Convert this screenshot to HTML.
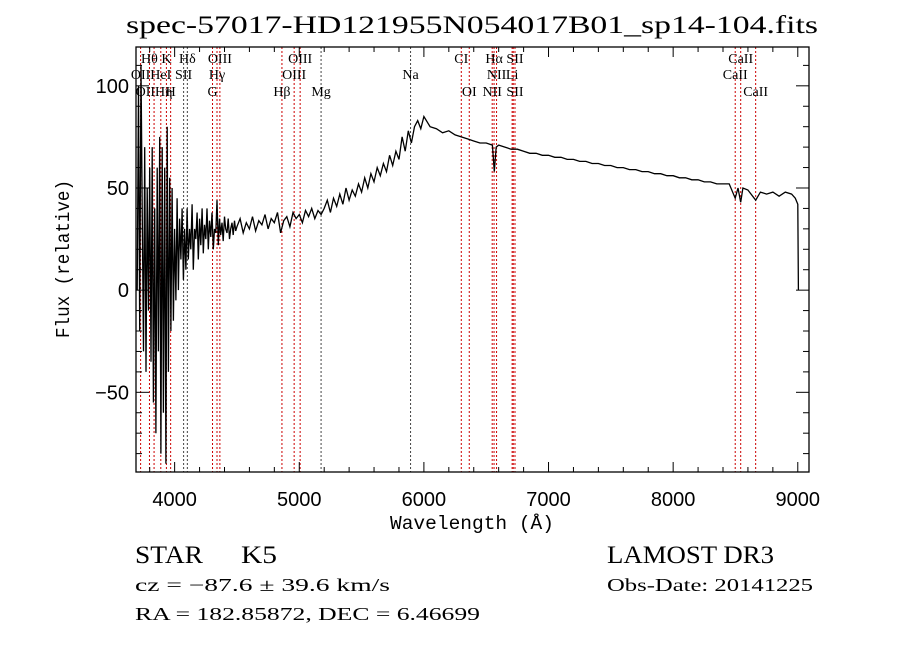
<!DOCTYPE html>
<html><head><meta charset="utf-8"><style>
body{margin:0;background:#fff;}
svg{display:block;font-family:"Liberation Serif",serif;}
</style></head><body>
<svg id="chart" width="900" height="649" viewBox="0 0 900 649" xmlns="http://www.w3.org/2000/svg">
<rect width="900" height="649" fill="#fff"/>
<text x="126" y="33" font-size="25" textLength="692" lengthAdjust="spacingAndGlyphs">spec-57017-HD121955N054017B01_sp14-104.fits</text>
<g id="lines"></g>
<g id="labels"></g>
<g id="ticks"></g>
<path id="spec" fill="none" stroke="#000" stroke-width="1.3"/>
<rect x="136" y="47" width="673" height="425" fill="none" stroke="#000" stroke-width="1.3"/>
<text x="390" y="529" font-size="19" textLength="164" lengthAdjust="spacingAndGlyphs" font-family="Liberation Mono, monospace">Wavelength (Å)</text>
<text transform="translate(69,338) rotate(-90)" font-size="19" textLength="158" lengthAdjust="spacingAndGlyphs" font-family="Liberation Mono, monospace">Flux (relative)</text>
<text x="135" y="563" font-size="25" textLength="68" lengthAdjust="spacingAndGlyphs">STAR</text>
<text x="241" y="563" font-size="25" textLength="36" lengthAdjust="spacingAndGlyphs">K5</text>
<text x="607" y="563" font-size="25" textLength="167" lengthAdjust="spacingAndGlyphs">LAMOST DR3</text>
<text x="135" y="591" font-size="18" textLength="255" lengthAdjust="spacingAndGlyphs">cz = −87.6 ± 39.6 km/s</text>
<text x="607" y="591" font-size="18" textLength="206" lengthAdjust="spacingAndGlyphs">Obs-Date: 20141225</text>
<text x="135" y="620" font-size="18" textLength="345" lengthAdjust="spacingAndGlyphs">RA = 182.85872, DEC =    6.46699</text>
</svg>
<script>
const wave=[3700,3710,3720,3730,3740,3750,3760,3770,3780,3790,3800,3810,3820,3830,3840,3850,3860,3870,3880,3890,3900,3910,3920,3930,3940,3950,3960,3970,3980,3990,4000,4010,4020,4030,4040,4050,4060,4070,4080,4090,4100,4110,4120,4130,4140,4150,4160,4170,4180,4190,4200,4210,4220,4230,4240,4250,4260,4270,4280,4290,4300,4310,4320,4330,4340,4350,4360,4370,4380,4390,4400,4410,4420,4430,4440,4450,4460,4470,4480,4490,4500,
4525,4550,4575,4600,4625,4650,4675,4700,4725,4750,4775,4800,4825,4850,4875,4900,4925,4950,4975,5000,5025,5050,5075,5100,5125,5150,5175,5200,5225,5250,5275,5300,5325,5350,5375,5400,5425,5450,5475,5500,5525,5550,5575,5600,5625,5650,5675,5700,5725,5750,5775,5800,5825,5850,5875,5900,5925,5950,5975,6000,
6050,6100,6150,6200,6250,6300,6350,6400,6450,6500,6550,6565,6580,6600,6650,6700,6750,6800,6850,6900,6950,7000,7050,7100,7150,7200,7250,7300,7350,7400,7450,7500,7550,7600,7650,7700,7750,7800,7850,7900,7950,8000,8050,8100,8150,8200,8250,8300,8350,8400,8450,8498,8520,8542,8560,8600,8662,8700,8750,8800,8850,8900,8950,8980,9000,9005];
const flux=[0,100,-20,110,40,-30,70,-40,50,-10,60,-35,70,-55,40,-70,60,-30,75,-80,70,-60,60,-85,80,-40,55,-20,50,-15,30,-5,45,0,35,15,40,5,30,10,40,15,30,20,42,10,30,25,38,15,35,22,40,18,32,25,40,20,34,26,38,20,30,28,44,22,35,27,33,24,36,30,28,35,25,30,33,27,34,29,31,
35,28,33,30,36,29,34,32,37,30,35,33,38,28,34,36,31,38,35,37,33,39,36,40,35,39,37,40,44,38,45,41,47,42,50,44,49,46,52,48,55,50,57,53,60,56,62,58,66,61,68,64,75,68,78,72,80,83,79,85,
80,79,77,78,76,75,74,73,72,72,71,58,70,71,70,69,69,68,67,67,66,66,65,65,64,64,63,63,62,62,61,61,60,60,59,59,58,58,57,57,56,56,55,55,54,54,53,53,52,52,52,45,50,43,50,49,44,48,47,48,46,48,47,45,42,0];
const lineWl=[3727,3798,3835,3889,3934,3968,4072,4102,4304,4340,4363,4861,4959,5007,5175,5893,6300,6364,6548,6563,6583,6708,6717,6731,8498,8542,8662];
const lineDark=[0,0,0,0,0,0,1,1,0,0,0,0,0,0,1,1,0,0,0,0,0,0,0,0,0,0,0];
const labelText=["Hθ","K","Hδ","OIII","OIII","CI","Hα","SII","CaII","OII","HeI","SII","Hγ","OIII","Na","NII","Li","CaII","OIIHη","H","G","Hβ","Mg","OI","NII","SII","CaII"];
const labelWl=[3798,3934,4102,4363,5007,6300,6563,6731,8542,3727,3889,4072,4340,4959,5893,6583,6708,8498,3835,3968,4304,4861,5175,6364,6548,6731,8662];
const labelRow=[0,0,0,0,0,0,0,0,0,1,1,1,1,1,1,1,1,1,2,2,2,2,2,2,2,2,2];
const xTicks=[4000,5000,6000,7000,8000,9000];
const yTicks=[-50,0,50,100];
const X0=136,X1=809,Y0=47,Y1=472,WMIN=3690,WMAX=9090,FMIN=-89,FMAX=119;
const xs=w=>X0+(w-WMIN)/(WMAX-WMIN)*(X1-X0);
const ys=f=>Y1-(f-FMIN)/(FMAX-FMIN)*(Y1-Y0);
const NS="http://www.w3.org/2000/svg";
function mk(t,p,a){const e=document.createElementNS(NS,t);for(const k in a)e.setAttribute(k,a[k]);p.appendChild(e);return e;}
let d="";wave.forEach((w,i)=>{d+=(i?"L":"M")+xs(w).toFixed(1)+","+ys(Math.max(FMIN,Math.min(FMAX,flux[i]))).toFixed(1);});
document.getElementById("spec").setAttribute("d",d);
const lg=document.getElementById("lines");
lineWl.forEach((w,i)=>{const l=mk("line",lg,{x1:xs(w),x2:xs(w),y1:Y0,y2:Y1,stroke:lineDark[i]?"#444":"#c00","stroke-width":1,"stroke-dasharray":"2,2"});

});
const lb=document.getElementById("labels");const rowY=[63,79,96];
labelText.forEach((t,i)=>{const e=mk("text",lb,{x:xs(labelWl[i]),y:rowY[labelRow[i]],"font-size":14,"text-anchor":"middle"});e.textContent=t;

});
const tg=document.getElementById("ticks");
for(let w=3800;w<=9000;w+=200){const big=w%1000===0;const L=big?10:5;
mk("line",tg,{x1:xs(w),x2:xs(w),y1:Y1,y2:Y1-L,stroke:"#000"});mk("line",tg,{x1:xs(w),x2:xs(w),y1:Y0,y2:Y0+L,stroke:"#000"});}
xTicks.forEach(w=>{const e=mk("text",tg,{x:xs(w),y:506,"font-size":20,"text-anchor":"middle","font-family":"Liberation Sans, sans-serif"});e.textContent=w;

});
for(let f=-80;f<=110;f+=10){const big=f%50===0;const L=big?13:6;
mk("line",tg,{x1:X0,x2:X0+L,y1:ys(f),y2:ys(f),stroke:"#000"});mk("line",tg,{x1:X1,x2:X1-L,y1:ys(f),y2:ys(f),stroke:"#000"});}
yTicks.forEach(f=>{const e=mk("text",tg,{x:129,y:ys(f)+7,"font-size":20,"text-anchor":"end","font-family":"Liberation Sans, sans-serif"});e.textContent=f<0?"−"+(-f):f;

});
</script>
</body></html>
